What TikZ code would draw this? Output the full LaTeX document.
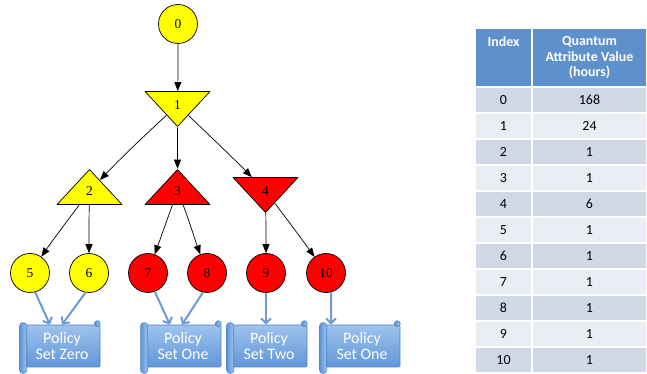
\documentclass[tikz,border=0pt]{standalone}
\usepackage{fontspec}
\setmainfont{Liberation Serif}
\newfontfamily\calibri{Carlito}
\usetikzlibrary{shapes.geometric,arrows.meta}
\definecolor{treeyellow}{RGB}{255,255,0}
\definecolor{treered}{RGB}{255,0,0}
\definecolor{flowblue}{RGB}{108,155,210}
\definecolor{scrolledge}{RGB}{84,132,192}
\definecolor{scrolltop}{RGB}{158,195,238}
\definecolor{scrollbot}{RGB}{96,150,216}
\definecolor{headblue}{RGB}{94,145,204}
\definecolor{rowdark}{RGB}{208,216,232}
\definecolor{rowlight}{RGB}{233,237,244}
\tikzset{
  circ/.style={draw,circle,minimum size=39bp,inner sep=0pt,font=\fontsize{13.5}{15}\selectfont},
  tri/.style={draw,isosceles triangle,isosceles triangle stretches,shape border rotate=90,
    minimum width=65bp,minimum height=35bp,inner sep=0pt,font=\fontsize{13.5}{15}\selectfont},
  invtri/.style={tri,shape border rotate=270},
  policy/.style={rectangle,draw=scrolledge,line width=0.6bp,top color=scrolltop,bottom color=scrollbot,
    minimum width=76bp,minimum height=42bp,rounded corners=1bp,text=white,align=center,
    font=\calibri\fontsize{16}{16.5}\selectfont},
  roll/.style={draw=scrolledge,line width=0.6bp,left color=scrollbot,right color=scrolltop},
  flow/.style={draw=flowblue,line width=2bp,-{Straight Barb[length=5bp,width=10bp]}},
  head/.style={rectangle,draw=white,line width=1.5bp,fill=headblue,minimum height=59bp,inner sep=0pt,
    text=white,align=center,font=\calibri\bfseries\fontsize{14}{16}\selectfont},
  cell/.style={rectangle,draw=white,line width=1.5bp,minimum height=26bp,inner sep=0pt,
    font=\calibri\fontsize{14}{16}\selectfont},
  idx/.style={cell,minimum width=57bp},
  val/.style={cell,minimum width=115bp},
}
\begin{document}
\begin{tikzpicture}[>={Triangle[length=9bp,width=7bp]},line join=bevel,line width=0.7bp]
    \useasboundingbox (0bp,0bp) rectangle (647bp,374bp);
    %%
    \node (0) at (178.0bp,350.0bp) [circ,fill=treeyellow] {0};
    \node (1) at (177.5bp,269.0bp) [invtri,fill=treeyellow] {1};
    \node (2) at (89.5bp,183.0bp) [tri,fill=treeyellow] {2};
    \node (3) at (177.5bp,183.0bp) [tri,fill=treered] {3};
    \node (4) at (265.5bp,183.0bp) [invtri,fill=treered] {4};
    \node (5) at (30.0bp,101.0bp) [circ,fill=treeyellow] {5};
    \node (6) at (89.0bp,101.0bp) [circ,fill=treeyellow] {6};
    \node (7) at (148.0bp,101.0bp) [circ,fill=treered] {7};
    \node (8) at (207.0bp,101.0bp) [circ,fill=treered] {8};
    \node (9) at (266.0bp,101.0bp) [circ,fill=treered] {9};
    \node (10) at (326.0bp,101.0bp) [circ,fill=treered] {10};
    \draw [->] (0) ..controls (178.0bp,315.0bp) and (178.0bp,300.0bp)  .. (1);
    \draw [->] (1) ..controls (143.0bp,237.0bp) and (122.0bp,217.0bp)  .. (2);
    \draw [->] (1) ..controls (177.5bp,235.0bp) and (177.5bp,220.0bp)  .. (3);
    \draw [->] (1) ..controls (211.0bp,237.0bp) and (232.0bp,217.0bp)  .. (4);
    \draw [->] (2) ..controls (68.0bp,154.0bp) and (55.0bp,137.0bp)  .. (5);
    \draw [->] (2) ..controls (89.0bp,155.0bp) and (89.0bp,138.0bp)  .. (6);
    \draw [->] (3) ..controls (167.0bp,154.0bp) and (161.0bp,137.0bp)  .. (7);
    \draw [->] (3) ..controls (189.0bp,154.0bp) and (194.0bp,137.0bp)  .. (8);
    \draw [->] (4) ..controls (266.0bp,148.0bp) and (266.0bp,135.0bp)  .. (9);
    \draw [->] (4) ..controls (289.0bp,152.0bp) and (301.0bp,136.0bp)  .. (10);
    %
    \node (ps1) at (62.0bp,28.0bp) [policy] {Policy\\Set Zero};
    \node (ps2) at (183.0bp,28.0bp) [policy] {Policy\\Set One};
    \node (ps3) at (269.0bp,28.0bp) [policy] {Policy\\Set Two};
    \node (ps4) at (362.0bp,28.0bp) [policy] {Policy\\Set One};
    \draw [roll,rounded corners=3bp] ([xshift=-4bp,yshift=2bp]ps1.north west) rectangle ([xshift=3bp,yshift=-6bp]ps1.south west);
    \draw [roll,rounded corners=3bp] ([xshift=-4bp,yshift=2bp]ps2.north west) rectangle ([xshift=3bp,yshift=-6bp]ps2.south west);
    \draw [roll,rounded corners=3bp] ([xshift=-4bp,yshift=2bp]ps3.north west) rectangle ([xshift=3bp,yshift=-6bp]ps3.south west);
    \draw [roll,rounded corners=3bp] ([xshift=-4bp,yshift=2bp]ps4.north west) rectangle ([xshift=3bp,yshift=-6bp]ps4.south west);
    \draw [roll] ([xshift=-3bp,yshift=1bp]ps1.north east) circle (3bp);
    \draw [roll] ([xshift=-3bp,yshift=1bp]ps2.north east) circle (3bp);
    \draw [roll] ([xshift=-3bp,yshift=1bp]ps3.north east) circle (3bp);
    \draw [roll] ([xshift=-3bp,yshift=1bp]ps4.north east) circle (3bp);
    \draw [flow] (5.-75) -- ([xshift=-12bp]ps1.north);
    \draw [flow] (6.-100) -- ([xshift=0bp]ps1.north);
    \draw [flow] (7.-70) -- ([xshift=-13bp]ps2.north);
    \draw [flow] (8.-102) -- ([xshift=-1bp]ps2.north);
    \draw [flow] (9.south) -- ([xshift=-3bp]ps3.north);
    \draw [flow] (10.-75) -- ([xshift=-31bp]ps4.north);
    %%
    \node (hi) at (503.5bp,316.5bp) [head,minimum width=57bp] {Index\\ \\ };
    \node (hv) at (589.5bp,316.5bp) [head,minimum width=115bp] {Quantum\\Attribute Value\\(hours)};
    \node (i0) at (503.5bp,274.0bp) [idx,fill=rowdark] {0};
    \node (v0) at (589.5bp,274.0bp) [val,fill=rowdark] {168};
    \node (i1) at (503.5bp,248.0bp) [idx,fill=rowlight] {1};
    \node (v1) at (589.5bp,248.0bp) [val,fill=rowlight] {24};
    \node (i2) at (503.5bp,222.0bp) [idx,fill=rowdark] {2};
    \node (v2) at (589.5bp,222.0bp) [val,fill=rowdark] {1};
    \node (i3) at (503.5bp,196.0bp) [idx,fill=rowlight] {3};
    \node (v3) at (589.5bp,196.0bp) [val,fill=rowlight] {1};
    \node (i4) at (503.5bp,170.0bp) [idx,fill=rowdark] {4};
    \node (v4) at (589.5bp,170.0bp) [val,fill=rowdark] {6};
    \node (i5) at (503.5bp,144.0bp) [idx,fill=rowlight] {5};
    \node (v5) at (589.5bp,144.0bp) [val,fill=rowlight] {1};
    \node (i6) at (503.5bp,118.0bp) [idx,fill=rowdark] {6};
    \node (v6) at (589.5bp,118.0bp) [val,fill=rowdark] {1};
    \node (i7) at (503.5bp,92.0bp) [idx,fill=rowlight] {7};
    \node (v7) at (589.5bp,92.0bp) [val,fill=rowlight] {1};
    \node (i8) at (503.5bp,66.0bp) [idx,fill=rowdark] {8};
    \node (v8) at (589.5bp,66.0bp) [val,fill=rowdark] {1};
    \node (i9) at (503.5bp,40.0bp) [idx,fill=rowlight] {9};
    \node (v9) at (589.5bp,40.0bp) [val,fill=rowlight] {1};
    \node (i10) at (503.5bp,14.0bp) [idx,fill=rowdark] {10};
    \node (v10) at (589.5bp,14.0bp) [val,fill=rowdark] {1};
    %
\end{tikzpicture}
\end{document}
